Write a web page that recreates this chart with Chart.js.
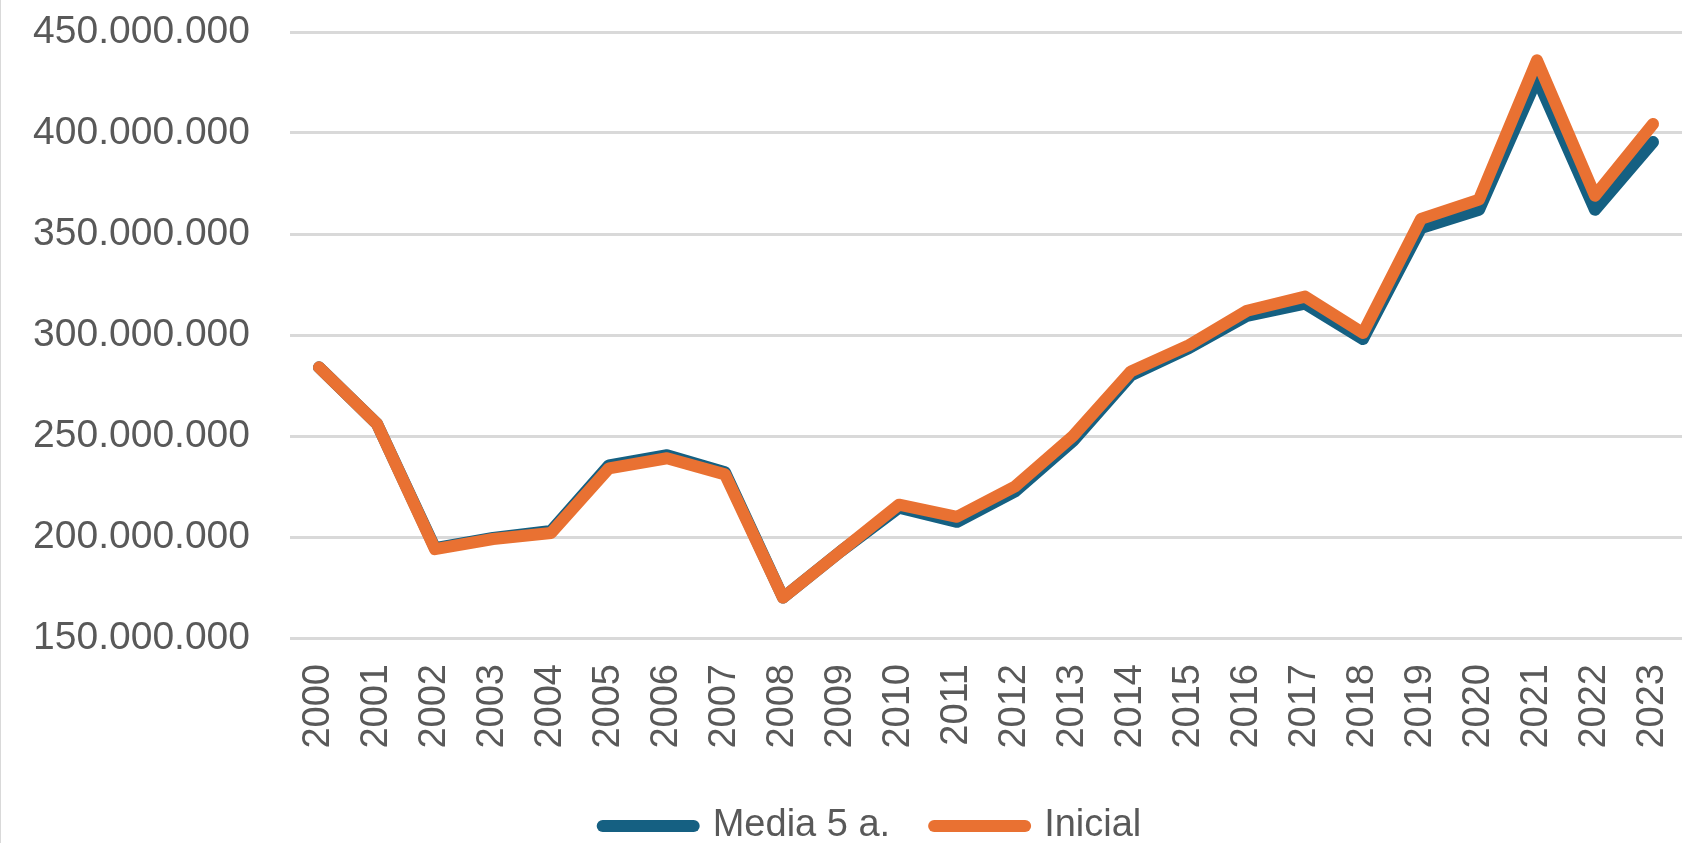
<!DOCTYPE html>
<html>
<head>
<meta charset="utf-8">
<script src="https://cdn.jsdelivr.net/npm/chart.js@4/dist/chart.umd.min.js"></script>
<style>
html,body{margin:0;padding:0;background:#ffffff;}
#wrap{position:relative;width:1702px;height:843px;overflow:hidden;}
#edge{position:absolute;left:0;top:0;width:1px;height:843px;background:#d9d9d9;}
canvas{display:block;}
</style>
</head>
<body>
<div id="wrap"><canvas id="c" width="1702" height="843"></canvas><div id="edge"></div></div>
<script>
const years = ['2000','2001','2002','2003','2004','2005','2006','2007','2008','2009','2010','2011','2012','2013','2014','2015','2016','2017','2018','2019','2020','2021','2022','2023'];
const media5 = [284e6,256e6,194.5e6,199.5e6,203e6,235.5e6,240.5e6,232e6,170e6,193e6,214.5e6,207.5e6,222.5e6,247.5e6,280e6,293.5e6,309.5e6,315.5e6,298e6,353e6,362e6,427e6,362e6,395.5e6];
const inicial = [284e6,256e6,194e6,199e6,202e6,234e6,239e6,231e6,170e6,193e6,216e6,210e6,225e6,250e6,282e6,295e6,312e6,319e6,301e6,357.5e6,367e6,436e6,369e6,404.5e6];
const seriesNames = ['Media 5 a.', 'Inicial'];
const yMin = 150000000;
const yMax = 450000000;
const yStep = 50000000;

function fmtThousands(v) {
  return String(Math.round(v)).replace(/\B(?=(\d{3})+(?!\d))/g, '.');
}

const gray = '#595959';
const fontFam = "'Liberation Sans', Arial, sans-serif";
const LW = 12;

const legendShift = {
  id: 'legendShift',
  afterLayout(chart) {
    if (chart.legend) {
      chart.legend.left += 31;
      chart.legend.right += 31;
    }
  }
};

new Chart(document.getElementById('c'), {
  type: 'line',
  data: {
    labels: years,
    datasets: [
      {
        label: seriesNames[0],
        data: media5,
        borderColor: '#156082',
        backgroundColor: '#156082',
        borderWidth: LW,
        pointRadius: 0,
        borderCapStyle: 'round',
        borderJoinStyle: 'round',
        tension: 0,
        order: 1
      },
      {
        label: seriesNames[1],
        data: inicial,
        borderColor: '#E97132',
        backgroundColor: '#E97132',
        borderWidth: LW,
        pointRadius: 0,
        borderCapStyle: 'round',
        borderJoinStyle: 'round',
        tension: 0,
        order: 0
      }
    ]
  },
  plugins: [legendShift],
  options: {
    responsive: false,
    animation: false,
    devicePixelRatio: 1,
    layout: { padding: { left: 0, right: 20, top: 32, bottom: 0 } },
    plugins: {
      tooltip: { enabled: false },
      legend: {
        position: 'bottom',
        maxHeight: 80,
        labels: {
          usePointStyle: true,
          pointStyle: 'line',
          pointStyleWidth: 91,
          padding: 44,
          color: gray,
          font: { family: fontFam, size: 38 },
          sort: (a, b) => a.datasetIndex - b.datasetIndex,
          generateLabels: (chart) => {
            const items = Chart.defaults.plugins.legend.labels.generateLabels(chart);
            items.forEach((it) => {
              const ds = chart.data.datasets[it.datasetIndex];
              it.lineCap = 'round';
              it.lineWidth = LW;
              it.strokeStyle = ds.borderColor;
              it.fillStyle = ds.borderColor;
            });
            return items;
          }
        }
      }
    },
    scales: {
      x: {
        type: 'category',
        offset: true,
        grid: { display: false, drawTicks: false, offset: true },
        border: { display: false },
        ticks: {
          autoSkip: false,
          minRotation: 90,
          maxRotation: 90,
          padding: 26,
          color: gray,
          font: { family: fontFam, size: 38 }
        },
        afterFit: (s) => { s.height = 125; s.paddingRight = 0; s.paddingLeft = 0; }
      },
      y: {
        min: yMin,
        max: yMax,
        grid: { color: '#d9d9d9', lineWidth: 3, drawTicks: true, tickLength: 40, tickColor: 'rgba(0,0,0,0)' },
        border: { display: false },
        ticks: {
          stepSize: yStep,
          padding: 0,
          color: gray,
          font: { family: fontFam, size: 39 },
          callback: (v) => fmtThousands(v)
        },
        afterFit: (s) => { s.width = 290; }
      }
    }
  }
});
</script>
</body>
</html>
